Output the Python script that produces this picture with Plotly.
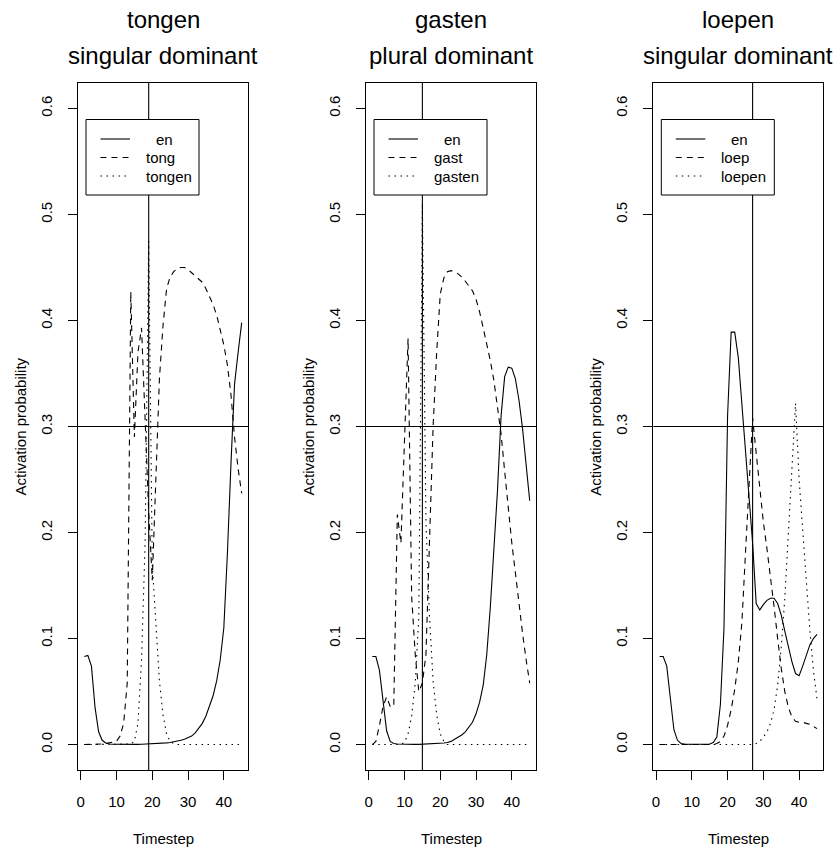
import plotly.graph_objects as go

# Timesteps shared by every panel
timesteps = list(range(1, 46))

# --- tongen (singular dominant) ---
tongen_en = [0.083, 0.084, 0.074, 0.035, 0.012, 0.004, 0.0015, 0.0005, 0.0003, 0.0002,
             0.0001, 0.0001, 0.0001, 0.0001, 0.0001, 0.0002, 0.0003, 0.0004, 0.0005, 0.0007,
             0.0009, 0.0011, 0.0013, 0.0016, 0.002, 0.0025, 0.003, 0.004, 0.005, 0.0065,
             0.008, 0.011, 0.015, 0.02, 0.027, 0.036, 0.046, 0.06, 0.08, 0.11,
             0.18, 0.265, 0.34, 0.37, 0.398]
tongen_stem = [0.0, 0.0, 0.0, 0.0, 0.0, 0.0005, 0.001, 0.0015, 0.002, 0.003,
               0.008, 0.02, 0.058, 0.427, 0.29, 0.37, 0.393, 0.30, 0.22, 0.155,
               0.25, 0.345, 0.395, 0.43, 0.441, 0.446, 0.449, 0.45, 0.45, 0.448,
               0.445, 0.442, 0.439, 0.436, 0.43, 0.423, 0.415, 0.405, 0.392, 0.377,
               0.358, 0.33, 0.29, 0.26, 0.237]
tongen_word = [0.0, 0.0, 0.0, 0.0, 0.0, 0.0, 0.0, 0.0, 0.0, 0.0,
               0.0, 0.0, 0.0, 0.0005, 0.003, 0.02, 0.08, 0.19, 0.475, 0.17,
               0.115, 0.06, 0.028, 0.01, 0.003, 0.001, 0.0, 0.0, 0.0, 0.0,
               0.0, 0.0, 0.0, 0.0, 0.0, 0.0, 0.0, 0.0, 0.0, 0.0,
               0.0, 0.0, 0.0, 0.0, 0.0]

# --- gasten (plural dominant) ---
gasten_en = [0.083, 0.083, 0.07, 0.042, 0.013, 0.003, 0.001, 0.0005, 0.0003, 0.0002,
             0.0002, 0.0002, 0.0002, 0.0002, 0.0003, 0.0004, 0.0005, 0.0006, 0.0008, 0.001,
             0.0015, 0.002, 0.003, 0.005, 0.007, 0.009, 0.012, 0.016, 0.021, 0.029,
             0.04, 0.056, 0.085, 0.13, 0.18, 0.24, 0.31, 0.347, 0.356, 0.355,
             0.345, 0.325, 0.298, 0.265, 0.23]
gasten_stem = [0.0, 0.003, 0.018, 0.036, 0.045, 0.036, 0.036, 0.217, 0.19, 0.29,
               0.383, 0.14, 0.085, 0.05, 0.058, 0.085, 0.19, 0.30, 0.37, 0.425,
               0.44, 0.446, 0.447, 0.446, 0.444, 0.441, 0.437, 0.433, 0.428, 0.42,
               0.408, 0.393, 0.378, 0.362, 0.343, 0.32, 0.293, 0.258, 0.222, 0.19,
               0.162, 0.132, 0.105, 0.08, 0.058]
gasten_word = [0.0, 0.0, 0.0, 0.0, 0.0, 0.0, 0.0, 0.0, 0.0, 0.002,
               0.01, 0.027, 0.058, 0.12, 0.51, 0.21, 0.12, 0.06, 0.028, 0.01,
               0.003, 0.0, 0.0, 0.0, 0.0, 0.0, 0.0, 0.0, 0.0, 0.0,
               0.0, 0.0, 0.0, 0.0, 0.0, 0.0, 0.0, 0.0, 0.0, 0.0,
               0.0, 0.0, 0.0, 0.0, 0.0]

# --- loepen (singular dominant) ---
loepen_en = [0.083, 0.083, 0.074, 0.042, 0.014, 0.004, 0.001, 0.0004, 0.0003, 0.0002,
             0.0002, 0.0002, 0.0002, 0.0003, 0.0005, 0.002, 0.007, 0.038, 0.11, 0.31,
             0.389, 0.389, 0.365, 0.32, 0.275, 0.235, 0.19, 0.133, 0.127, 0.132,
             0.136, 0.138, 0.138, 0.133, 0.122, 0.107, 0.092, 0.078, 0.067, 0.065,
             0.074, 0.085, 0.094, 0.1, 0.104]
loepen_stem = [0.0, 0.0, 0.0, 0.0, 0.0, 0.0, 0.0, 0.0, 0.0, 0.0,
               0.0, 0.0, 0.0, 0.0, 0.0, 0.0, 0.001, 0.003, 0.008, 0.018,
               0.033, 0.052, 0.078, 0.115, 0.18, 0.25, 0.308, 0.275, 0.24, 0.21,
               0.185, 0.16, 0.13, 0.1, 0.072, 0.05, 0.035, 0.026, 0.022, 0.021,
               0.021, 0.02, 0.019, 0.017, 0.015]
loepen_word = [0.0, 0.0, 0.0, 0.0, 0.0, 0.0, 0.0, 0.0, 0.0, 0.0,
               0.0, 0.0, 0.0, 0.0, 0.0, 0.0, 0.0, 0.0, 0.0, 0.0,
               0.0, 0.0, 0.0, 0.0, 0.0, 0.0, 0.0, 0.001, 0.003, 0.007,
               0.012, 0.02, 0.033, 0.056, 0.092, 0.138, 0.2, 0.265, 0.322, 0.25,
               0.2, 0.155, 0.108, 0.07, 0.043]

words = ["tongen", "gasten", "loepen"]
stems = ["tong", "gast", "loep"]
dominance = ["singular dominant", "plural dominant", "singular dominant"]
word_onset = [19, 15, 27]          # vertical marker per word
threshold = 0.3                     # horizontal marker
series = [
    (tongen_en, tongen_stem, tongen_word),
    (gasten_en, gasten_stem, gasten_word),
    (loepen_en, loepen_stem, loepen_word),
]

x_ticks = [0, 10, 20, 30, 40]
y_ticks = [0.0, 0.1, 0.2, 0.3, 0.4, 0.5, 0.6]
y_ticktext = ["0.0", "0.1", "0.2", "0.3", "0.4", "0.5", "0.6"]

# ---- page geometry (pixels) ----
W, H = 840, 849
panel_left = [78, 366, 653.3]
panel_w = 170
plot_top, plot_bottom = 83, 770
FONT = "Liberation Sans, Arial, Helvetica, sans-serif"

def fx(px):
    return px / W

def fy(py):
    return 1 - py / H

DASH = "6px,5px"
DOT = "1.5px,4.5px"
styles = ["solid", DASH, DOT]

fig = go.Figure()
shapes = []
annotations = []

for i in range(3):
    ax = "" if i == 0 else str(i + 1)
    xref, yref = "x" + ax, "y" + ax
    for vals, sty, nm in zip(series[i], styles, ["en", stems[i], words[i]]):
        fig.add_trace(go.Scatter(
            x=timesteps, y=vals, mode="lines", name=nm, showlegend=False,
            line=dict(color="black", width=1.1, dash=sty),
            xaxis=xref, yaxis=yref, hoverinfo="skip"))

    left = panel_left[i]
    fig.layout["xaxis" + ax] = dict(
        domain=[fx(left), fx(left + panel_w)], anchor=yref,
        range=[-0.76, 46.76], tickmode="array", tickvals=x_ticks,
        ticks="outside", ticklen=9, tickwidth=1, tickcolor="black",
        ticklabelstandoff=9,
        showline=True, mirror=True, linecolor="black", linewidth=1,
        showgrid=False, zeroline=False,
        tickfont=dict(family=FONT, size=15, color="black"))
    fig.layout["yaxis" + ax] = dict(
        domain=[fy(plot_bottom), fy(plot_top)], anchor=xref,
        range=[-0.024, 0.624], tickmode="array", tickvals=y_ticks,
        ticktext=y_ticktext, tickangle=-90,
        ticks="outside", ticklen=9, tickwidth=1, tickcolor="black",
        ticklabelstandoff=10,
        showline=True, mirror=True, linecolor="black", linewidth=1,
        showgrid=False, zeroline=False,
        tickfont=dict(family=FONT, size=15, color="black"))

    # reference lines
    shapes.append(dict(type="line", xref=xref, yref=yref + " domain",
                       x0=word_onset[i], x1=word_onset[i], y0=0, y1=1,
                       line=dict(color="black", width=1.1), layer="above"))
    shapes.append(dict(type="line", xref=xref + " domain", yref=yref,
                       x0=0, x1=1, y0=threshold, y1=threshold,
                       line=dict(color="black", width=1.1), layer="above"))

    # legend box
    shapes.append(dict(type="rect", xref="paper", yref="paper",
                       x0=fx(left + 8), x1=fx(left + 121),
                       y0=fy(195), y1=fy(119.5),
                       fillcolor="white", line=dict(color="black", width=1),
                       layer="above"))
    rows = [139, 157.5, 176]
    labels = ["en", stems[i], words[i]]
    for r, lab, sty in zip(rows, labels, styles):
        shapes.append(dict(type="line", xref="paper", yref="paper",
                           x0=fx(left + 22.5), x1=fx(left + 52),
                           y0=fy(r), y1=fy(r),
                           line=dict(color="black", width=1.1, dash=sty),
                           layer="above"))
        annotations.append(dict(
            text=lab, xref="paper", yref="paper",
            x=fx(left + (76 if lab == "en" else 66)), y=fy(r),
            xanchor="left", yanchor="middle", showarrow=False,
            font=dict(family=FONT, size=15, color="black")))

    cx = left + panel_w / 2
    annotations.append(dict(text=words[i], xref="paper", yref="paper",
                            x=fx(cx), y=fy(20), xanchor="center", yanchor="middle",
                            showarrow=False,
                            font=dict(family=FONT, size=24, color="black")))
    annotations.append(dict(text=dominance[i], xref="paper", yref="paper",
                            x=fx(cx), y=fy(55), xanchor="center", yanchor="middle",
                            showarrow=False,
                            font=dict(family=FONT, size=24, color="black")))
    annotations.append(dict(text="Timestep", xref="paper", yref="paper",
                            x=fx(cx), y=fy(838), xanchor="center", yanchor="middle",
                            showarrow=False,
                            font=dict(family=FONT, size=15, color="black")))
    annotations.append(dict(text="Activation probability", xref="paper", yref="paper",
                            x=fx(left - 58), y=fy((plot_top + plot_bottom) / 2),
                            xanchor="center", yanchor="middle", textangle=-90,
                            showarrow=False,
                            font=dict(family=FONT, size=15, color="black")))

fig.update_layout(
    width=W, height=H, autosize=False,
    margin=dict(l=0, r=0, t=0, b=0),
    paper_bgcolor="white", plot_bgcolor="white",
    shapes=shapes, annotations=annotations, showlegend=False)

fig.write_html("out.html")
